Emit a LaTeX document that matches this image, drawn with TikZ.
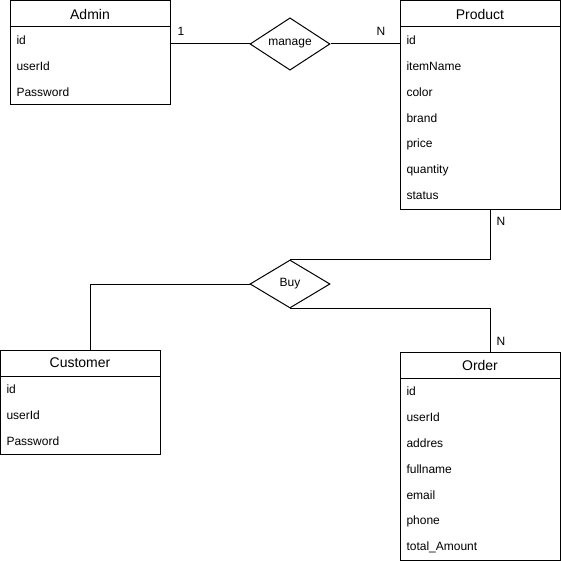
\documentclass[tikz,border=0pt]{standalone}
\usepackage{fontspec}
\setmainfont{Liberation Sans}
\usetikzlibrary{positioning,shapes.geometric}

\begin{document}
\begin{tikzpicture}[x=1pt,y=-1pt,line width=1pt]
\tikzset{node distance=0pt,
    title/.style={rectangle, draw, minimum width=160pt, minimum height=26pt, inner sep=0pt, outer sep=0pt, font=\fontsize{14}{16}\selectfont},
    body/.style={rectangle, draw, minimum width=160pt, inner sep=0pt, outer sep=0pt},
    attr/.style={anchor=west, inner sep=0pt, font=\fontsize{12}{14}\selectfont},
    relation/.style={diamond, draw, minimum width=80pt, minimum height=48pt, inner sep=0pt, font=\fontsize{12}{14}\selectfont},
    card/.style={inner sep=0pt, font=\fontsize{12}{14}\selectfont}
}
  \useasboundingbox (0,0) rectangle (561,564);

  % entities
  \node[title, anchor=north west] (admin) at (10,1) {Admin};
  \node[body, minimum height=78pt, below=of admin] (adminbody) {};
  \node[title, anchor=north west] (product) at (400,1) {Product};
  \node[body, minimum height=182pt, below=of product] (productbody) {};
  \node[title, anchor=north west] (customer) at (0,350) {Customer};
  \node[body, minimum height=78pt, below=of customer] (customerbody) {};
  \node[title, anchor=north west] (order) at (400,352) {Order};
  \node[body, minimum height=182pt, below=of order] (orderbody) {};

  % attributes
  \foreach \a [count=\i from 0] in {id,userId,Password}
    \node[attr] at ([xshift=6pt, yshift=-13pt-26pt*\i]adminbody.north west) {\a};
  \foreach \a [count=\i from 0] in {id,itemName,color,brand,price,quantity,status}
    \node[attr] at ([xshift=6pt, yshift=-13pt-26pt*\i]productbody.north west) {\a};
  \foreach \a [count=\i from 0] in {id,userId,Password}
    \node[attr] at ([xshift=6pt, yshift=-13pt-26pt*\i]customerbody.north west) {\a};
  \foreach \a [count=\i from 0] in {id,userId,addres,fullname,email,phone,total\_Amount}
    \node[attr] at ([xshift=6pt, yshift=-13pt-26pt*\i]orderbody.north west) {\a};

  % relations
  \node[relation] (manage) at (290,44) {manage};
  \node[relation] (buy) at (290,284) {Buy};

  \draw (manage.west) -- (manage.west -| adminbody.east);
  \draw (manage.east) -- (manage.east -| productbody.west);
  \draw (buy.north) -| ([xshift=10pt]productbody.south);
  \draw (buy.west) -| ([xshift=10pt]customer.north);
  \draw (buy.south) -| ([xshift=10pt]order.north);

  % cardinalities
  \node[card] (c1) at (181,31) {1};
  \node[card] (c2) at (381,31) {N};
  \node[card] (c3) at (501,221) {N};
  \node[card] (c4) at (501,341) {N};
\end{tikzpicture}
\end{document}
